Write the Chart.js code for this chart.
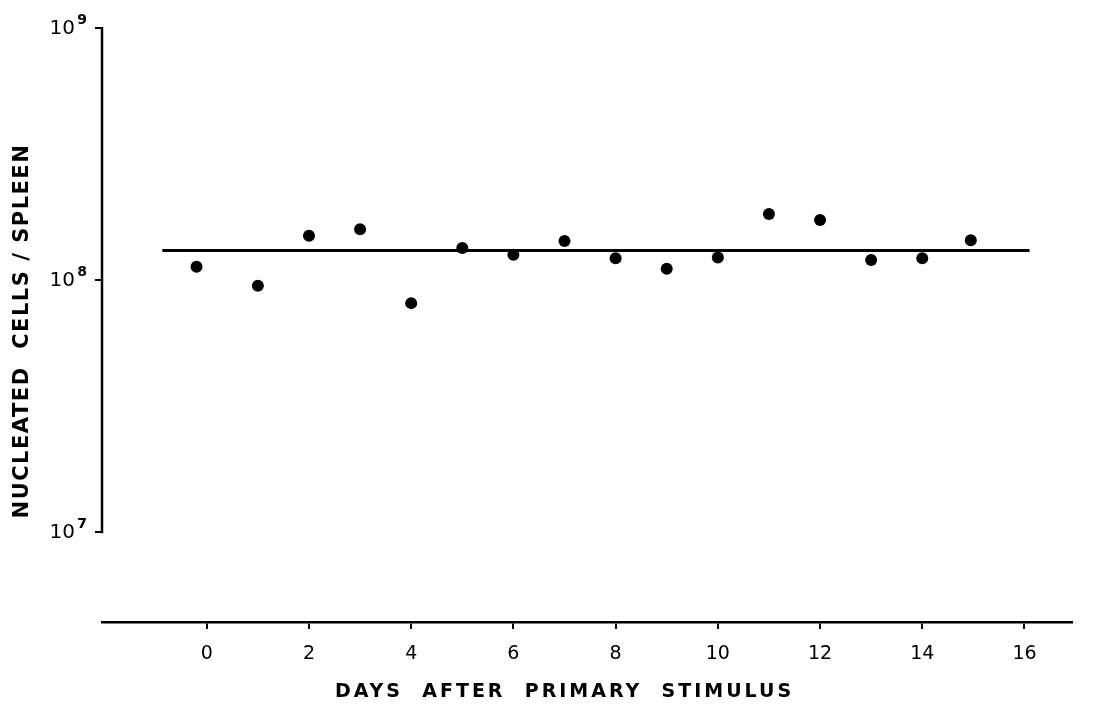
<!DOCTYPE html>
<html>
<head>
<meta charset="utf-8">
<script src="https://cdn.jsdelivr.net/npm/chart.js@4/dist/chart.umd.min.js"></script>
<style>
body { margin: 0; background: #fff; }
</style>
</head>
<body>
<canvas id="spleen" width="1114" height="709"></canvas>
<script>
// days after primary stimulus, nucleated cells per spleen
var days = [-0.2, 1, 2, 3, 4, 5, 6, 7, 8, 9, 10, 11, 12, 13, 14, 14.95];
var cells = [1.13e8, 0.95e8, 1.50e8, 1.59e8, 0.81e8, 1.34e8, 1.26e8, 1.43e8, 1.22e8, 1.11e8, 1.23e8, 1.83e8, 1.73e8, 1.20e8, 1.22e8, 1.44e8];
// fitted mean line
var fitDays = [-0.87, 16.1];
var fitCells = [1.31e8, 1.31e8];
var xTicks = [0, 2, 4, 6, 8, 10, 12, 14, 16];
var yTicks = [1e7, 1e8, 1e9];
var yTickExps = ['7', '8', '9'];

var font = 'DejaVu Sans';

var axisPlugin = {
	id: 'axisPlugin',
	afterDraw: function(chart) {
		var ctx = chart.ctx;
		var ys = chart.scales.y;
		var xs = chart.scales.x;
		var left = chart.chartArea.left;
		ctx.save();
		// y axis only runs between 10^7 and 10^9
		ctx.strokeStyle = '#000';
		ctx.lineWidth = 2.5;
		ctx.beginPath();
		ctx.moveTo(left, ys.getPixelForValue(1e9) - 1);
		ctx.lineTo(left, ys.getPixelForValue(1e7) + 1);
		ctx.stroke();

		ctx.fillStyle = '#000';
		// y tick labels as 10 with a raised exponent
		ctx.textAlign = 'right';
		ctx.textBaseline = 'middle';
		yTicks.forEach(function(v, i) {
			var py = ys.getPixelForValue(v);
			ctx.font = 'bold 14px ' + font;
			ctx.fillText(yTickExps[i], left - 15, py - 8);
			ctx.font = '20px ' + font;
			ctx.fillText('10', left - 27, py + 1);
		});

		ctx.textAlign = 'center';
		// x title
		ctx.font = 'bold 19px ' + font;
		ctx.letterSpacing = '3px';
		ctx.fillText('DAYS  AFTER  PRIMARY  STIMULUS', xs.getPixelForValue(7), 692);
		// y title
		ctx.font = 'bold 21px ' + font;
		ctx.letterSpacing = '1.5px';
		ctx.translate(23, (ys.getPixelForValue(1e9) + ys.getPixelForValue(1e7)) / 2 + 51);
		ctx.rotate(-Math.PI / 2);
		ctx.fillText('NUCLEATED  CELLS / SPLEEN', 0, 0);
		ctx.restore();
	}
};

var chart = new Chart(document.getElementById('spleen'), {
	type: 'scatter',
	data: {
		datasets: [
			{
				label: 'cells',
				data: days.map(function(d, i) { return {x: d, y: cells[i]}; }),
				backgroundColor: '#000',
				borderWidth: 0,
				pointRadius: 6,
				pointHoverRadius: 6
			},
			{
				label: 'mean',
				type: 'line',
				data: fitDays.map(function(d, i) { return {x: d, y: fitCells[i]}; }),
				borderColor: '#000',
				borderWidth: 3,
				pointRadius: 0,
				fill: false
			}
		]
	},
	options: {
		responsive: false,
		animation: false,
		layout: { padding: { top: 28, right: 42, left: 0, bottom: 0 } },
		plugins: { legend: { display: false }, tooltip: { enabled: false } },
		scales: {
			x: {
				type: 'linear',
				min: -2.05,
				max: 16.93,
				afterBuildTicks: function(scale) {
					scale.ticks = xTicks.map(function(v) { return {value: v}; });
				},
				afterFit: function(scale) { scale.height = 87; },
				border: { display: true, color: '#000', width: 2.5 },
				grid: { drawOnChartArea: false, color: '#000', lineWidth: 2, tickLength: 7 },
				ticks: { color: '#000', padding: 14, font: { family: font, size: 19 } }
			},
			y: {
				type: 'logarithmic',
				min: 4.4e6,
				max: 1e9,
				afterBuildTicks: function(scale) {
					scale.ticks = yTicks.map(function(v) { return {value: v}; });
				},
				afterFit: function(scale) { scale.width = 102; },
				border: { display: false },
				grid: { drawOnChartArea: false, color: '#000', lineWidth: 2, tickLength: 7 },
				ticks: {
					color: '#000',
					padding: 6,
					font: { family: font, size: 19 },
					callback: function() { return ''; }
				}
			}
		}
	},
	plugins: [axisPlugin]
});
</script>
</body>
</html>
